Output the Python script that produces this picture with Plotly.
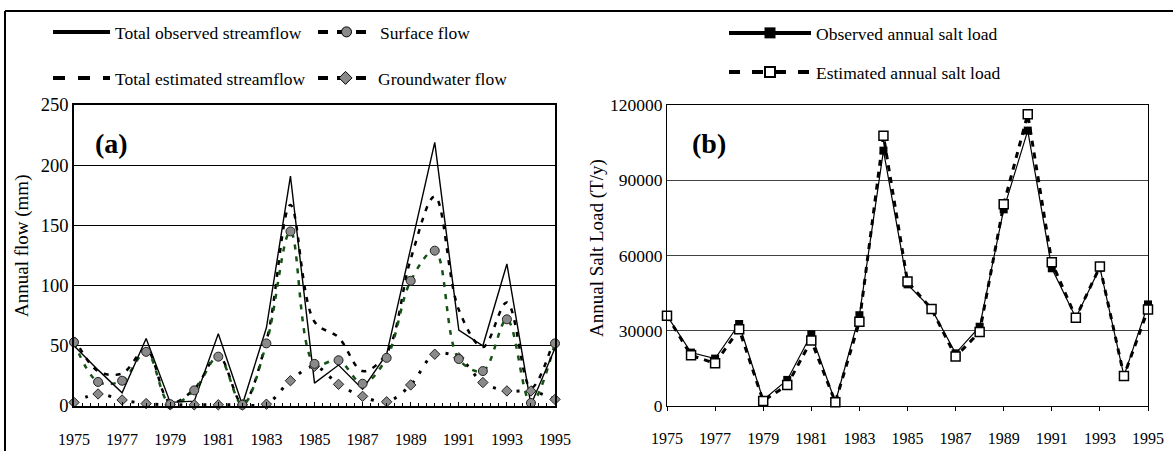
import plotly.graph_objects as go

# ---------------- data ----------------
years = list(range(1975, 1996))
tick_years = list(range(1975, 1996, 2))

total_observed = [50, 30, 11, 56, 3, 4, 60, 1, 65, 191, 19, 34, 14, 43, 131, 219, 63, 50, 118, 1, 48]
total_estimated = [57, 29, 27, 47, 3, 14, 42, 2, 54, 167, 70, 57, 29, 44, 122, 174, 80, 49, 86, 15, 58]
surface_flow = [53, 20, 21, 45, 1.5, 13, 41, 1, 52, 145, 35, 38, 18.5, 40, 104, 129, 39, 29, 72, 2.5, 52]
groundwater_flow = [3, 10, 5, 2, 1, 1, 1, 1, 1.5, 21, 33, 18, 8, 3.5, 17.5, 43, 40, 19.5, 12.5, 12.5, 5.5]

salt_observed = [36000, 21300, 18900, 32700, 2400, 10400, 28600, 1500, 36200, 101800, 48500,
                 38700, 21000, 31600, 78400, 109800, 54900, 35200, 55200, 12000, 40500]
salt_estimated = [36000, 20200, 17000, 30600, 2000, 8400, 26100, 1500, 33600, 107700, 49600,
                  38700, 19700, 29500, 80400, 116300, 57300, 35200, 55600, 12000, 38500]

W, H = 1173, 451
FONT = "Times New Roman, Liberation Serif, serif"
GRAY = "#8a8a8a"
GREEN = "#145214"


def px_x(p):
    return p / W


def px_y(p):
    return 1 - p / H


fig = go.Figure()

# ---------------- panel (a) lines ----------------
fig.add_trace(go.Scatter(x=years, y=groundwater_flow, mode="lines", xaxis="x", yaxis="y",
                         line=dict(color="black", width=3, dash="3px,9px", shape="spline"),
                         showlegend=False, hoverinfo="skip"))
fig.add_trace(go.Scatter(x=years, y=total_estimated, mode="lines", xaxis="x", yaxis="y",
                         line=dict(color="black", width=2.5, dash="5px,7px", shape="spline"),
                         showlegend=False, hoverinfo="skip"))
fig.add_trace(go.Scatter(x=years, y=surface_flow, mode="lines", xaxis="x", yaxis="y",
                         line=dict(color=GREEN, width=2.5, dash="5px,7px", shape="spline"),
                         showlegend=False, hoverinfo="skip"))
fig.add_trace(go.Scatter(x=years, y=total_observed, mode="lines", xaxis="x", yaxis="y",
                         line=dict(color="black", width=1.4),
                         showlegend=False, hoverinfo="skip"))
fig.add_trace(go.Scatter(x=years, y=groundwater_flow, mode="markers", xaxis="x", yaxis="y",
                         marker=dict(symbol="diamond", size=8, color=GRAY, line=dict(color="#222", width=1)),
                         cliponaxis=False, showlegend=False, hoverinfo="skip"))
fig.add_trace(go.Scatter(x=years, y=surface_flow, mode="markers", xaxis="x", yaxis="y",
                         marker=dict(symbol="circle", size=9, color=GRAY, line=dict(color="#222", width=1)),
                         cliponaxis=False, showlegend=False, hoverinfo="skip"))

# ---------------- panel (b) lines ----------------
fig.add_trace(go.Scatter(x=years, y=salt_observed, mode="lines+markers", xaxis="x2", yaxis="y2",
                         line=dict(color="black", width=1.2),
                         marker=dict(symbol="square", size=8, color="black"),
                         cliponaxis=False, showlegend=False, hoverinfo="skip"))
fig.add_trace(go.Scatter(x=years, y=salt_estimated, mode="lines+markers", xaxis="x2", yaxis="y2",
                         line=dict(color="black", width=3, dash="6px,6px"),
                         marker=dict(symbol="square", size=9, color="white", line=dict(color="black", width=1.5)),
                         cliponaxis=False, showlegend=False, hoverinfo="skip"))

# ---------------- legend entries (styles only, no data drawn) ----------------
leg_items = [
    ("Total observed streamflow", "legend", "lines", dict(color="black", width=4), None),
    ("Surface flow", "legend2", "lines+markers", dict(color="black", width=4, dash="10px,9px"),
     dict(symbol="circle", size=10, color=GRAY, line=dict(color="black", width=1))),
    ("Total estimated streamflow", "legend3", "lines", dict(color="black", width=4, dash="12px,13px"), None),
    ("Groundwater flow", "legend4", "lines+markers", dict(color="black", width=4, dash="10px,9px"),
     dict(symbol="diamond", size=10, color=GRAY, line=dict(color="black", width=1))),
    ("Observed annual salt load", "legend5", "lines+markers", dict(color="black", width=4),
     dict(symbol="square", size=11, color="black")),
    ("Estimated annual salt load", "legend6", "lines+markers", dict(color="black", width=4, dash="11px,12px"),
     dict(symbol="square", size=10, color="white", line=dict(color="black", width=2))),
]
for name, leg, mode, line, marker in leg_items:
    kw = dict(x=[None], y=[None], mode=mode, name=name, legend=leg, line=line, showlegend=True,
              hoverinfo="skip")
    if marker:
        kw["marker"] = marker
    ax = ("x", "y") if leg in ("legend", "legend2", "legend3", "legend4") else ("x2", "y2")
    fig.add_trace(go.Scatter(xaxis=ax[0], yaxis=ax[1], **kw))


def legend_cfg(x_sym, y_row, itemw):
    return dict(x=px_x(x_sym - 5), y=px_y(y_row), xanchor="left", yanchor="middle",
                bgcolor="rgba(0,0,0,0)", borderwidth=0, itemwidth=itemw,
                font=dict(family=FONT, size=17.5, color="black"), orientation="v")


ydom = [px_y(406), px_y(105)]


def ann(text, x, y, size, angle=0):
    return dict(text=text, x=px_x(x), y=px_y(y), xref="paper", yref="paper",
                xanchor="center", yanchor="middle", textangle=angle, showarrow=False,
                font=dict(family=FONT, size=size, color="black"))


fig.update_layout(
    width=W, height=H,
    margin=dict(l=0, r=0, t=0, b=0, autoexpand=False),
    paper_bgcolor="white", plot_bgcolor="white",
    font=dict(family=FONT, color="black"),
    showlegend=True,
    legend=legend_cfg(53, 32, 57),
    legend2=legend_cfg(318, 32, 57),
    legend3=legend_cfg(53, 78, 57),
    legend4=legend_cfg(318, 78, 55),
    legend5=legend_cfg(729, 33, 82),
    legend6=legend_cfg(729, 72, 82),
    xaxis=dict(domain=[px_x(74), px_x(555)], anchor="y", range=[1975, 1995], tickvals=tick_years,
               ticks="inside", ticklen=4, tickcolor="black", automargin=False,
               minor=dict(dtick=1 / 3, tick0=1975, ticks="inside", ticklen=3, tickcolor="black"),
               showline=True, linecolor="black", linewidth=1.5, mirror=True,
               showgrid=False, zeroline=False, ticklabelstandoff=18,
               tickfont=dict(family=FONT, size=16, color="black")),
    yaxis=dict(domain=ydom, anchor="x", range=[0, 250], dtick=50, ticks="", automargin=False,
               showline=True, linecolor="black", linewidth=1.5, mirror=True,
               showgrid=True, gridcolor="black", gridwidth=1, zeroline=False,
               tickfont=dict(family=FONT, size=18.5, color="black")),
    xaxis2=dict(domain=[px_x(667), px_x(1148)], anchor="y2", range=[1975, 1995], tickvals=tick_years,
                ticks="outside", ticklen=4, tickcolor="black", automargin=False,
                showline=True, linecolor="black", linewidth=1, mirror=True,
                showgrid=False, zeroline=False, ticklabelstandoff=14,
                tickfont=dict(family=FONT, size=16, color="black")),
    yaxis2=dict(domain=ydom, anchor="x2", range=[0, 120000], dtick=30000, tickformat="d", ticks="",
                automargin=False,
                showline=True, linecolor="black", linewidth=1, mirror=True,
                showgrid=True, gridcolor="#444", gridwidth=1, zeroline=False,
                tickfont=dict(family=FONT, size=17.5, color="black")),
    annotations=[
        ann("<b>(a)</b>", 111, 143, 28),
        ann("<b>(b)</b>", 709, 143, 28),
        ann("Annual flow (mm)", 22, 246, 19, -90),
        ann("Annual Salt Load (T/y)", 597, 248, 19, -90),
    ],
    shapes=[
        dict(type="line", xref="paper", yref="paper", x0=px_x(5), x1=1, y0=px_y(11), y1=px_y(11),
             line=dict(color="black", width=2)),
        dict(type="line", xref="paper", yref="paper", x0=px_x(5), x1=px_x(5), y0=px_y(11), y1=0,
             line=dict(color="black", width=2)),
    ],
)

fig.write_html("out.html", config={"displayModeBar": False},
               post_script="document.body.style.margin='0px';")
